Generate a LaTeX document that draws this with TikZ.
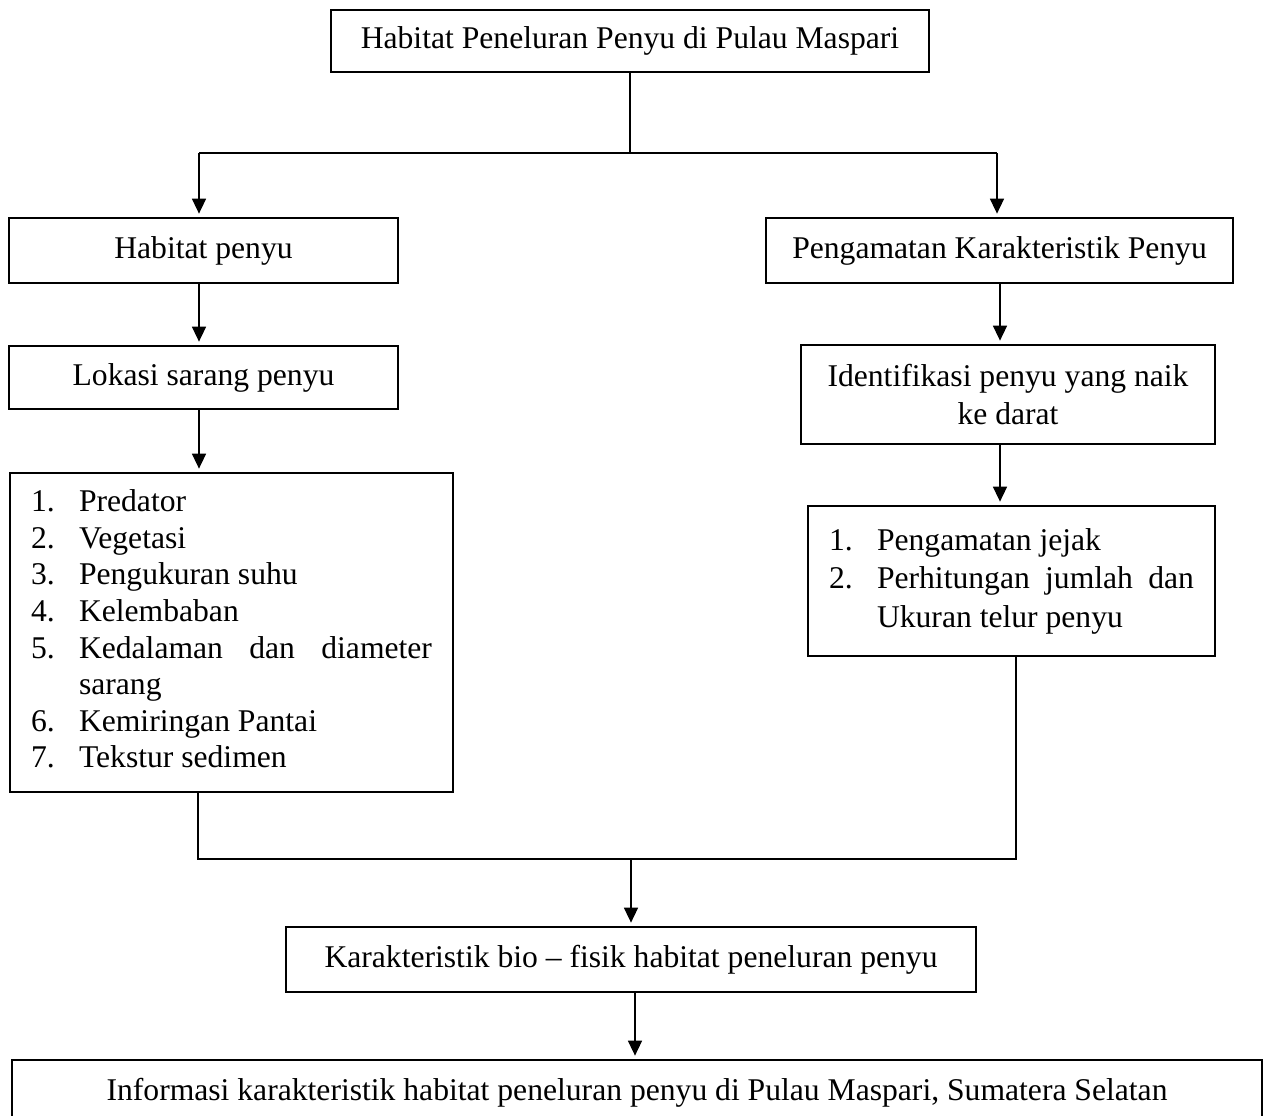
\documentclass[tikz,border=0pt]{standalone}
\usepackage{fontspec}
\setmainfont{Liberation Serif}
\usepackage{array}
\usetikzlibrary{arrows.meta,calc}
\begin{document}
\begin{tikzpicture}[x=0.02cm,y=-0.02cm,
  box/.style={draw, line width=1pt, inner sep=0pt, align=center, font=\fontsize{18}{20.8}\selectfont},
  conn/.style={line width=0.7pt},
  arr/.style={conn, -{Triangle[length=8.5pt,width=8pt]}, shorten >=2pt}]
\useasboundingbox (0,0) rectangle (1267,1115);
\begin{scope}
\clip (0,0) rectangle (1267,1115);
\fill[white] (0,0) rectangle (1267,1115);

\node[box, minimum width={598*0.02cm}, minimum height={62*0.02cm}] (top) at (630,41) {Habitat Peneluran Penyu di Pulau Maspari};
\node[box, minimum width={389*0.02cm}, minimum height={65*0.02cm}] (hab) at (203.5,250.5) {Habitat penyu};
\node[box, minimum width={467*0.02cm}, minimum height={65*0.02cm}] (peng) at (999.5,250.5) {Pengamatan Karakteristik Penyu};
\node[box, minimum width={389*0.02cm}, minimum height={63*0.02cm}] (lok) at (203.5,377.5) {Lokasi sarang penyu};
\node[box, align=left, minimum width={443*0.02cm}, minimum height={319*0.02cm}] (list1) at (231.5,632.5) {%
\begin{tabular}{@{}p{0.96cm}@{}p{7.06cm}@{}}
1. & Predator\\
2. & Vegetasi\\
3. & Pengukuran suhu\\
4. & Kelembaban\\
5. & Kedalaman \hfill dan \hfill diameter\newline sarang\\
6. & Kemiringan Pantai\\
7. & Tekstur sedimen
\end{tabular}};
\node[box, minimum width={414*0.02cm}, minimum height={99*0.02cm}, font=\fontsize{18}{21.5}\selectfont] (ident) at (1008,394.5) {Identifikasi penyu yang naik\\ke darat};
\node[box, align=left, minimum width={407*0.02cm}, minimum height={150*0.02cm}, font=\fontsize{18}{22}\selectfont] (list2) at (1011.5,581) {%
\begin{tabular}{@{}p{0.96cm}@{}p{6.34cm}@{}}
1. & Pengamatan jejak\\
2. & Perhitungan \hfill jumlah \hfill dan\newline Ukuran telur penyu
\end{tabular}};
\node[box, minimum width={690*0.02cm}, minimum height={65*0.02cm}] (kar) at (631,959.5) {Karakteristik bio -- fisik habitat peneluran penyu};
\node[box, minimum width={1250*0.02cm}, minimum height={65*0.02cm}] (info) at (637,1092.5) {Informasi karakteristik habitat peneluran penyu di Pulau Maspari, Sumatera Selatan};

\coordinate (jt) at (630,153);
\coordinate (jl) at (199,153);
\coordinate (jr) at (997,153);
\draw[conn] (top.south) -- (jt);
\draw[conn] (jl) -- (jr);
\draw[arr] (jl) -- (jl |- hab.north);
\draw[arr] (jr) -- (jr |- peng.north);
\draw[arr] (hab.south -| jl) -- (lok.north -| jl);
\draw[arr] (lok.south -| jl) -- (list1.north -| jl);
\coordinate (xr) at (1000,0);
\draw[arr] (peng.south -| xr) -- (ident.north -| xr);
\draw[arr] (ident.south -| xr) -- (list2.north -| xr);
\coordinate (bl) at (198,859);
\coordinate (br) at (1016,859);
\coordinate (bm) at (631,859);
\draw[conn] (list1.south -| bl) -- (bl) -- (br) -- (list2.south -| br);
\draw[arr] (bm) -- (kar.north -| bm);
\coordinate (km) at (635,0);
\draw[arr] (kar.south -| km) -- (info.north -| km);
\end{scope}
\end{tikzpicture}
\end{document}
